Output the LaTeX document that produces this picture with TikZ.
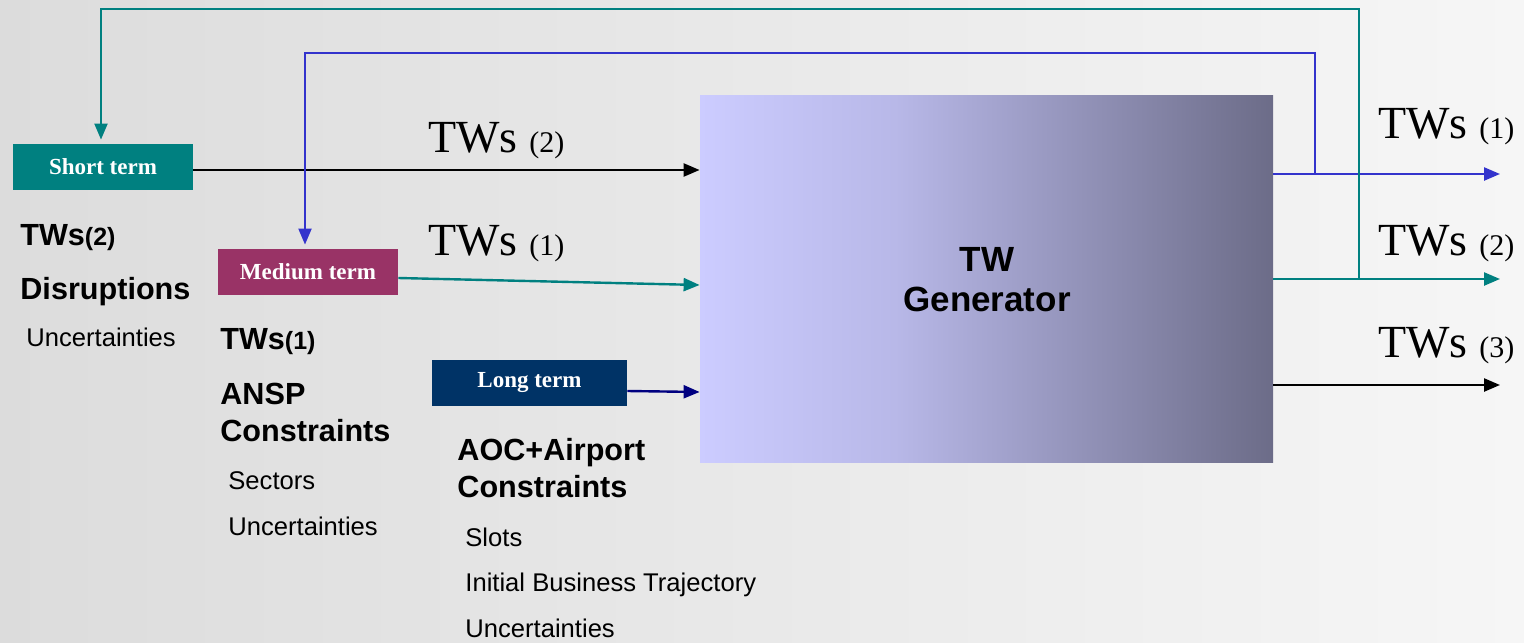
\documentclass[tikz,border=0pt]{standalone}
\usepackage{fontspec}
\setmainfont{Liberation Serif}
\setsansfont{Liberation Sans}
\usetikzlibrary{arrows.meta}
\definecolor{tealc}{HTML}{008080}
\definecolor{plumc}{HTML}{993366}
\definecolor{navyc}{HTML}{003366}
\definecolor{bluec}{HTML}{3333CC}
\definecolor{navyarr}{HTML}{000080}
\definecolor{bgL}{HTML}{DCDCDC}
\definecolor{bgR}{HTML}{F6F6F6}
\definecolor{gA}{HTML}{CCCCFF}
\definecolor{gB}{HTML}{B8B8E8}
\definecolor{gC}{HTML}{6C6C88}
\pgfdeclarehorizontalshading{twgen}{100bp}{color(0bp)=(gA); color(25bp)=(gA); color(42bp)=(gB); color(75bp)=(gC); color(100bp)=(gC)}
\begin{document}
\begin{tikzpicture}[x=0.5pt,y=-0.5pt,
  termbox/.style={draw=none, text=white, font=\fontsize{11.5}{13}\selectfont\bfseries, inner sep=0pt, minimum height=23pt},
  arr/.style={line width=1.2pt, -{Triangle[length=8pt,width=6.5pt]}},
  fb/.style={line width=1pt},
  lbl/.style={anchor=base west, inner sep=0pt},
  twl/.style={lbl, font=\fontsize{23}{26}\selectfont},
  hd/.style={lbl, font=\sffamily\bfseries\fontsize{15.3}{18}\selectfont},
  sm/.style={lbl, font=\sffamily\fontsize{12.8}{15}\selectfont}]
\shade[left color=bgL, right color=bgR] (0,0) rectangle (1524,642);
\useasboundingbox (0,0) rectangle (1524,642);

% generator
\node[minimum width=286.5pt, minimum height=183pt, inner sep=0pt, shading=twgen] (gen) at (986.5,279) {};
\node[font=\sffamily\bfseries\fontsize{17.5}{20}\selectfont, align=center] (gent) at (987,280) {TW\\Generator};

% term boxes
\node[termbox, fill=tealc, minimum width=90pt] (st) at (103,167) {Short term};
\node[termbox, fill=plumc, minimum width=90pt] (md) at (308,272) {Medium term};
\node[termbox, fill=navyc, minimum width=97.5pt] (lt) at (529.5,383) {Long term};

% input arrows
\draw[arr, black] ([yshift=-1.5pt]st.east) -- ([yshift=-1.5pt]gen.west |- st.east);
\draw[arr, tealc] ([yshift=-3pt]md.east) -- ([yshift=-3pt]gen.west);
\draw[arr, navyarr] ([yshift=-4pt]lt.east) -- ([yshift=-4.5pt]gen.west |- lt.east);

% outputs
\coordinate (o1) at (1500,174);
\coordinate (o2) at (1500,279);
\coordinate (o3) at (1500,385);
\coordinate (j1) at (1315,174);
\coordinate (j2) at (1359,279);
\draw[arr, bluec] (gen.east |- o1) -- (o1);
\draw[arr, tealc] (gen.east |- o2) -- (o2);
\draw[arr, black] (gen.east |- o3) -- (o3);

% feedback
\draw[fb, bluec, -{Triangle[length=8pt,width=6.5pt]}, shorten >=2pt] (j1) |- (305,53) -- (md.north -| 305,0);
\draw[fb, tealc, -{Triangle[length=8pt,width=6.5pt]}, shorten >=2pt] (j2) |- (101,9) -- (st.north -| 101,0);

% TWs labels
\node[twl] (l1) at (428,152) {TWs {\fontsize{15}{17}\selectfont(2)}};
\node[twl] (l2) at (428,255) {TWs {\fontsize{15}{17}\selectfont(1)}};
\node[twl] (r1) at (1378,138) {TWs {\fontsize{15}{17}\selectfont(1)}};
\node[twl] (r2) at (1378,255) {TWs {\fontsize{15}{17}\selectfont(2)}};
\node[twl] (r3) at (1378,357) {TWs {\fontsize{15}{17}\selectfont(3)}};

% left texts
\node[hd] (a1) at (20,245) {TWs{\fontsize{12.5}{14}\selectfont(2)}};
\node[hd] (a2) at (20,299) {Disruptions};
\node[sm] (a3) at (26,346) {Uncertainties};

\node[hd] (b1) at (220,349) {TWs{\fontsize{12.5}{14}\selectfont(1)}};
\node[hd] (b2) at (220,404) {ANSP};
\node[hd] (b3) at (220,441) {Constraints};
\node[sm] (b4) at (228,489) {Sectors};
\node[sm] (b5) at (228,535) {Uncertainties};

\node[hd] (c1) at (457,460) {AOC+Airport};
\node[hd] (c2) at (457,497) {Constraints};
\node[sm] (c3) at (465,546) {Slots};
\node[sm] (c4) at (465,591) {Initial Business Trajectory};
\node[sm] (c5) at (465,637) {Uncertainties};
\end{tikzpicture}
\end{document}
